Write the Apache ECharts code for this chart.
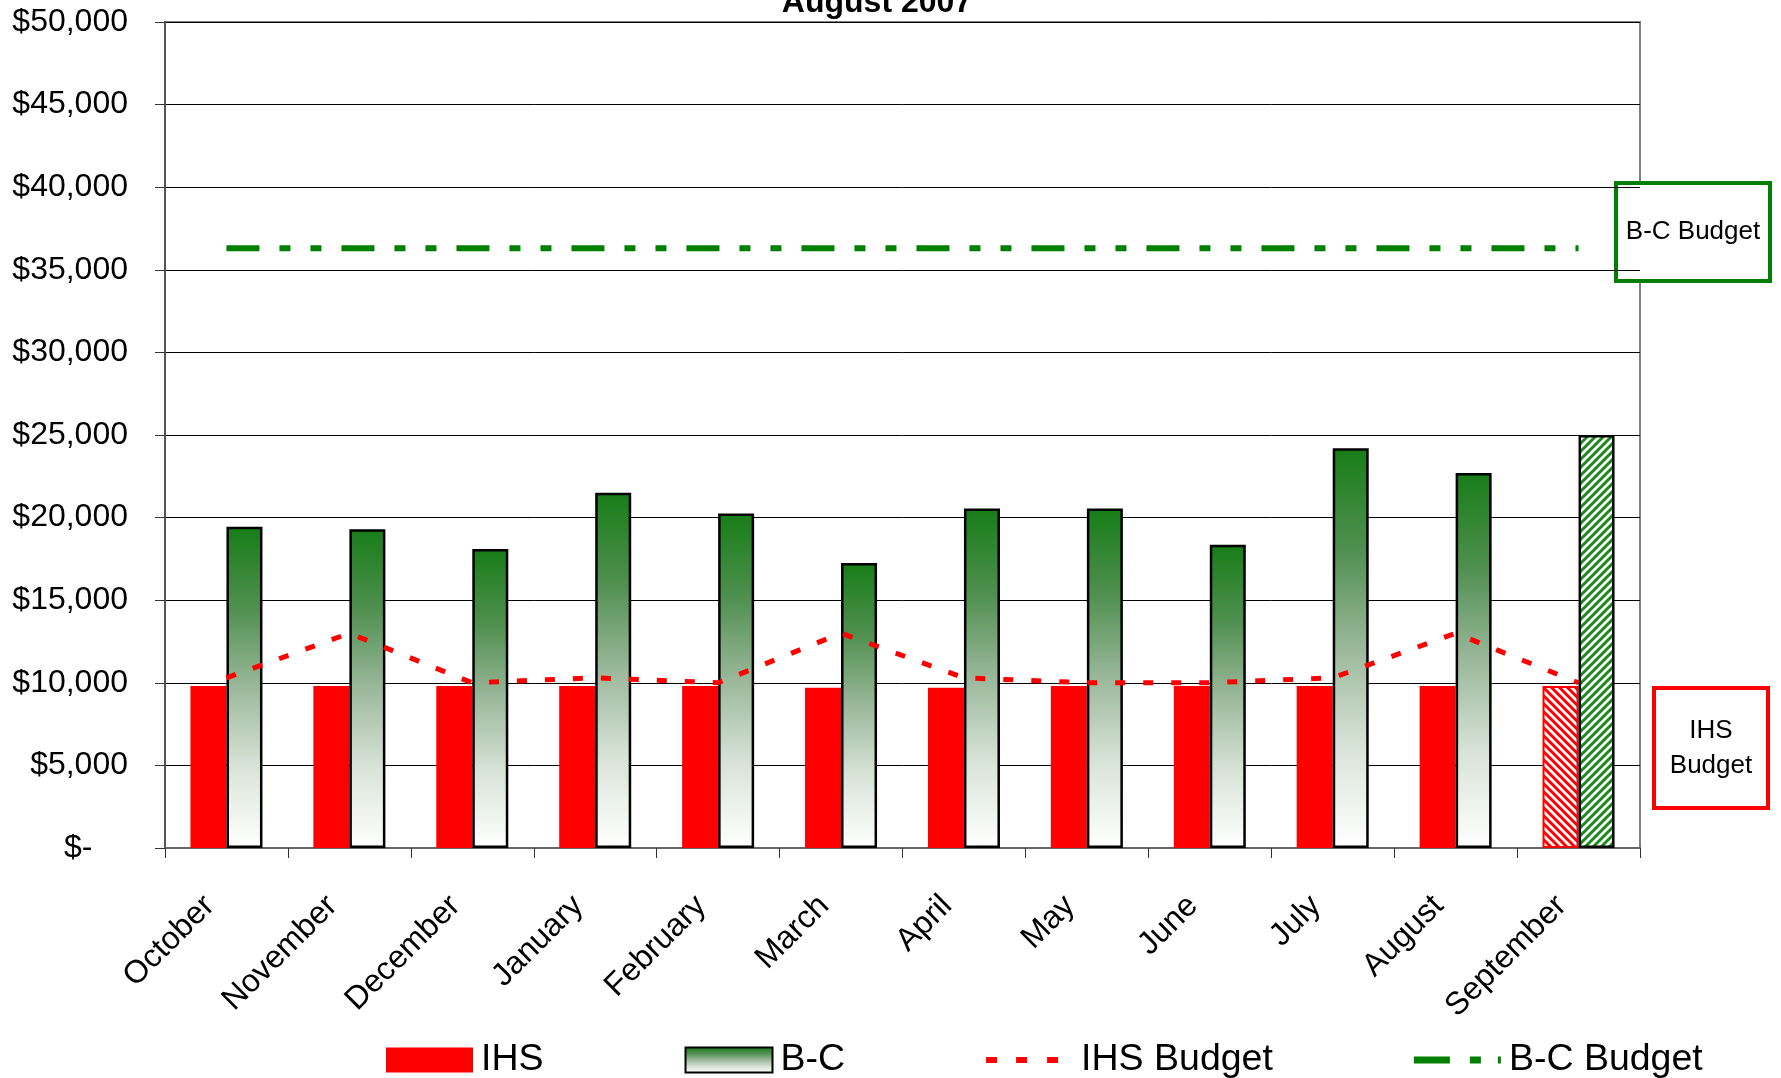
<!DOCTYPE html>
<html>
<head>
<meta charset="utf-8">
<script src="https://cdn.jsdelivr.net/npm/echarts@6/dist/echarts.min.js"></script>
<style>
  html, body { margin: 0; padding: 0; background: #ffffff; }
  #chart { width: 1781px; height: 1078px; }
</style>
</head>
<body>
<div id="chart"></div>
<script>
// ---- data ----
const months = ['October', 'November', 'December', 'January', 'February', 'March',
                'April', 'May', 'June', 'July', 'August', 'September'];
const ihsValues = [9800, 9800, 9800, 9800, 9800, 9700, 9700, 9800, 9800, 9800, 9800, 9800];
const bcValues = [19450, 19300, 18100, 21500, 20250, 17250, 20550, 20550, 18350, 24200, 22700, 25000];
const ihsBudget = [10300, 13000, 10000, 10300, 10000, 13000, 10300, 10000, 10000, 10300, 13000, 10000];
const bcBudget = [36300, 36300, 36300, 36300, 36300, 36300, 36300, 36300, 36300, 36300, 36300, 36300];
const seriesNames = ['IHS', 'B-C', 'IHS Budget', 'B-C Budget'];
const titleText = 'August 2007';
const yMin = 0, yMax = 50000, yStep = 5000;
const projectedIndex = 11; // September is shown hatched (projection)

// ---- styling helpers ----
function hatch(color, dir) {
  const s = 8;
  const c = document.createElement('canvas');
  c.width = s; c.height = s;
  const g = c.getContext('2d');
  g.fillStyle = '#ffffff';
  g.fillRect(0, 0, s, s);
  g.strokeStyle = color;
  g.lineWidth = 3;
  g.beginPath();
  if (dir === '/') {
    g.moveTo(-2, s + 2); g.lineTo(s + 2, -2);
    g.moveTo(-2, 2); g.lineTo(2, -2);
    g.moveTo(s - 2, s + 2); g.lineTo(s + 2, s - 2);
  } else {
    g.moveTo(-2, -2); g.lineTo(s + 2, s + 2);
    g.moveTo(s - 2, -2); g.lineTo(s + 2, 2);
    g.moveTo(-2, s - 2); g.lineTo(2, s + 2);
  }
  g.stroke();
  return { image: c, repeat: 'repeat' };
}

const greenGrad = new echarts.graphic.LinearGradient(0, 0, 0, 1, [
  { offset: 0, color: '#177d17' },
  { offset: 0.25, color: '#4f8f4f' },
  { offset: 0.5, color: '#9bb89b' },
  { offset: 0.75, color: '#d9e4d9' },
  { offset: 1, color: '#ffffff' }
]);

const ihsData = ihsValues.map((v, i) => i === projectedIndex
  ? { value: v, itemStyle: { color: hatch('#ff0000', '\\'), borderColor: '#ff0000', borderWidth: 2 } }
  : v);
const bcData = bcValues.map((v, i) => i === projectedIndex
  ? { value: v, itemStyle: { color: hatch('#1a8a1a', '/'), borderColor: '#000000', borderWidth: 2.5 } }
  : v);

// legend icons for the budget lines, drawn as dash paths inside an 87x25 box
const ihsBudgetIcon = 'path://M0,0M87,25M0,9.5h11v6h-11zM30,9.5h11v6h-11zM61,9.5h11v6h-11z';
const bcBudgetIcon = 'path://M0,0M87,25M0,9h36v7h-36zM56,9h11v7h-11zM84,9h3v7h-3z';

const FONT = 'Liberation Sans, Arial, sans-serif';
const chart = echarts.init(document.getElementById('chart'), null, { renderer: 'canvas' });

chart.setOption({
  animation: false,
  backgroundColor: '#ffffff',
  textStyle: { fontFamily: FONT, color: '#000' },
  title: {
    text: titleText,
    left: 872,
    textAlign: 'center',
    top: -18,
    textStyle: { fontFamily: FONT, fontWeight: 'bold', fontSize: 32, color: '#000' }
  },
  grid: {
    left: 165, right: 141, top: 22, bottom: 230,
    show: true, borderColor: '#808080', borderWidth: 2,
    containLabel: false
  },
  legend: {
    left: 381, top: 1036,
    itemWidth: 87, itemHeight: 25, itemGap: 141,
    symbolKeepAspect: false,
    textStyle: { fontFamily: FONT, fontSize: 37.5, color: '#000', padding: [0, 0, 0, 3] },
    data: [
      { name: seriesNames[0], icon: 'rect' },
      { name: seriesNames[1], icon: 'rect' },
      { name: seriesNames[2], icon: ihsBudgetIcon, itemStyle: { color: '#ff0000', borderWidth: 0 } },
      { name: seriesNames[3], icon: bcBudgetIcon, itemStyle: { color: '#008000', borderWidth: 0 } }
    ]
  },
  xAxis: {
    type: 'category',
    data: months,
    boundaryGap: true,
    axisLine: { lineStyle: { color: '#666', width: 2 } },
    axisTick: { show: true, alignWithLabel: false, length: 10, inside: false, lineStyle: { color: '#333', width: 1 } },
    axisLabel: { interval: 0, rotate: 45, margin: 36, padding: [0, 24, 0, 0], fontFamily: FONT, fontSize: 32, color: '#000' },
    splitLine: { show: false }
  },
  yAxis: {
    type: 'value',
    min: yMin, max: yMax, interval: yStep,
    axisLine: { show: true, lineStyle: { color: '#555', width: 2 } },
    axisTick: { show: true, length: 10, lineStyle: { color: '#333', width: 1 } },
    axisLabel: {
      margin: 37, fontFamily: FONT, fontSize: 32, color: '#000',
      formatter: v => v === 0 ? '$-    ' : '$' + v.toLocaleString('en-US')
    },
    splitLine: { show: true, lineStyle: { color: '#000', width: 1 } }
  },
  series: [
    {
      name: seriesNames[0], type: 'bar', data: ihsData,
      barWidth: 36, barGap: '0%',
      itemStyle: { color: '#ff0000' }
    },
    {
      name: seriesNames[1], type: 'bar', data: bcData,
      barWidth: 36, barGap: '0%',
      itemStyle: { color: greenGrad, borderColor: '#000000', borderWidth: 2.5 }
    },
    {
      name: seriesNames[2], type: 'line', data: ihsBudget,
      symbol: 'none', z: 5,
      lineStyle: { color: '#ff0000', width: 5, type: [10, 18] },
      itemStyle: { color: '#ff0000' }
    },
    {
      name: seriesNames[3], type: 'line', data: bcBudget,
      symbol: 'none', z: 5,
      lineStyle: { color: '#008000', width: 6, type: [33, 20, 11, 20, 11, 20] },
      itemStyle: { color: '#008000' }
    }
  ],
  graphic: [
    {
      type: 'group', left: 1614, top: 181,
      children: [
        { type: 'rect', shape: { x: 0, y: 0, width: 154, height: 98 },
          style: { fill: '#ffffff', stroke: '#008000', lineWidth: 4 } },
        { type: 'text', x: 77, y: 49,
          style: { text: 'B-C Budget', fill: '#000', font: '26px ' + FONT, align: 'center', verticalAlign: 'middle' } }
      ]
    },
    {
      type: 'group', left: 1652, top: 686,
      children: [
        { type: 'rect', shape: { x: 0, y: 0, width: 114, height: 120 },
          style: { fill: '#ffffff', stroke: '#ff0000', lineWidth: 4 } },
        { type: 'text', x: 57, y: 60,
          style: { text: 'IHS\nBudget', fill: '#000', font: '26px ' + FONT, lineHeight: 35, align: 'center', verticalAlign: 'middle' } }
      ]
    }
  ]
});
</script>
</body>
</html>
